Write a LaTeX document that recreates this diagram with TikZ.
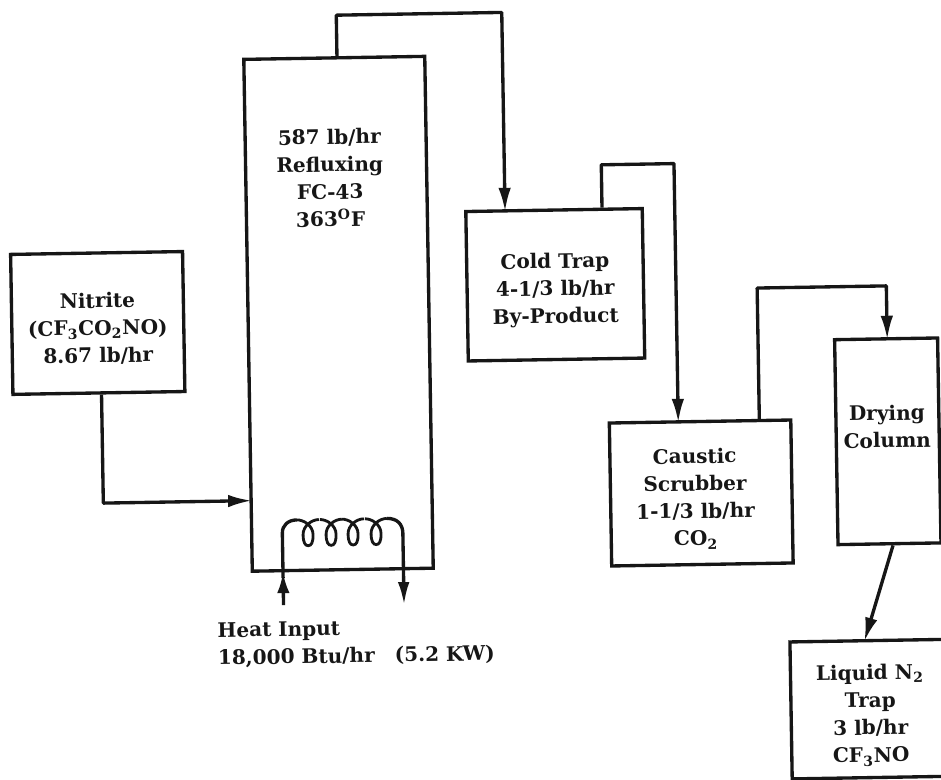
\documentclass[tikz,border=0pt]{standalone}
\usepackage{fontspec}
\setmainfont{DejaVu Serif}
\definecolor{scanink}{RGB}{22,22,22}
\usetikzlibrary{arrows.meta, positioning, calc}

\begin{document}
\begin{tikzpicture}[
    x=0.02cm, y=-0.02cm,
    every node/.style={font=\fontsize{11.4}{15.6}\selectfont\bfseries, text=scanink},
    unitbox/.style={
        rectangle, draw=scanink, line width=1.9pt,
        align=center, inner sep=0pt
    },
    pipe/.style={draw=scanink, line width=1.9pt, line join=round},
    flow/.style={pipe, shorten >=-1.5pt, -{Latex[length=0.48cm, width=0.25cm]}},
    winding/.style={draw=scanink, line width=1.6pt},
    note/.style={align=left, inner sep=0pt},
    caption/.style={align=center, inner sep=0pt},
]
\useasboundingbox (0,0) rectangle (941,779);

\begin{scope}[transform canvas={rotate around={0.95:(470,390)}}]

% ---- Reactor ----
\node[unitbox, minimum width=3.62cm, minimum height=10.24cm] (reactor) at (339.8,311.6) {};
\node[caption] (reactortxt) at (333.5,175.7)
      {587 lb/hr\\Refluxing\\FC-43\\363\textsuperscript{O}F};

% ---- Feed and product units ----
\node[unitbox, minimum width=3.44cm, minimum height=2.8cm] (nitrite) at (98.9,316.8)
      {\rule{0pt}{15pt}Nitrite\\(CF\textsubscript{3}CO\textsubscript{2}NO)\\8.67 lb/hr};
\node[unitbox, minimum width=3.53cm, minimum height=2.99cm] (coldtrap) at (557,286.2)
      {\rule{0pt}{15pt}Cold Trap\\4-1/3 lb/hr\\By-Product};
\node[unitbox, minimum width=3.63cm, minimum height=2.86cm] (scrubber) at (699.5,496.8) {};
\node[caption] (scrubbertxt) at (693.5,502.5)
      {Caustic\\Scrubber\\1-1/3 lb/hr\\CO\textsubscript{2}};
\node[unitbox, minimum width=2.06cm, minimum height=4.1cm] (drying) at (886.9,448.2) {};
\node[caption] (dryingtxt) at (886.4,433.4) {Drying\\Column};
\node[unitbox, minimum width=3.2cm, minimum height=2.74cm] (liquid) at (865.7,715.7) {};
\node[caption] (liquidtxt) at (865.1,722)
      {Liquid N\textsubscript{2}\\Trap\\3 lb/hr\\CF\textsubscript{3}NO};

% ---- Heat input label ----
\node[note, anchor=north west] (heat) at (213.2,618.3)
      {Heat Input\\18,000 Btu/hr\hspace{1em}(5.2 KW)};

% ---- Coil ends ----
\coordinate (coilin)  at (280,602);
\coordinate (coilout) at (400.5,604);
\coordinate (coila)   at (280,530);
\coordinate (coilb)   at (400.5,532);

% ---- Flow lines ----
\draw[flow] (nitrite.south -| 101.5,0) |- (reactor.west |- 0,497);
\draw[flow] (reactor.north -| 342.5,0) |- (508,13) -- (coldtrap.north -| 508,0);
\draw[flow] (coldtrap.north -| 605,0) |- (677.7,167) -- (scrubber.north -| 677.7,0);
\draw[flow] (scrubber.north -| 758.8,0) |- (888,292.8) -- (drying.north -| 888,0);
\draw[flow] (drying.south -| 890.4,0) -- (liquid.north -| 860.9,0);

% ---- Heating coil ----
\draw[pipe, -{Latex[length=0.42cm, width=0.25cm]}] (coilin) -- (280,569);
\draw[pipe] (280,575) -- (coila) .. controls (280,522) and (286,517) .. (294.7,517);
\foreach \c in {305.7,328.7,350.7,373.7} {
    \draw[winding] (\c-11,517) .. controls (\c-4,517) and (\c+5,523) .. (\c+5,532)
        .. controls (\c+5,540) and (\c+3,543) .. (\c,543)
        .. controls (\c-3,543) and (\c-5,540) .. (\c-5,532)
        .. controls (\c-5,523) and (\c+4,517) .. (\c+11,517);
}
\draw[pipe] (384.7,517) .. controls (395,517) and (400.5,523) .. (coilb);
\draw[pipe, -{Latex[length=0.46cm, width=0.23cm]}] (coilb) -- (coilout);

\end{scope}
\end{tikzpicture}
\end{document}
